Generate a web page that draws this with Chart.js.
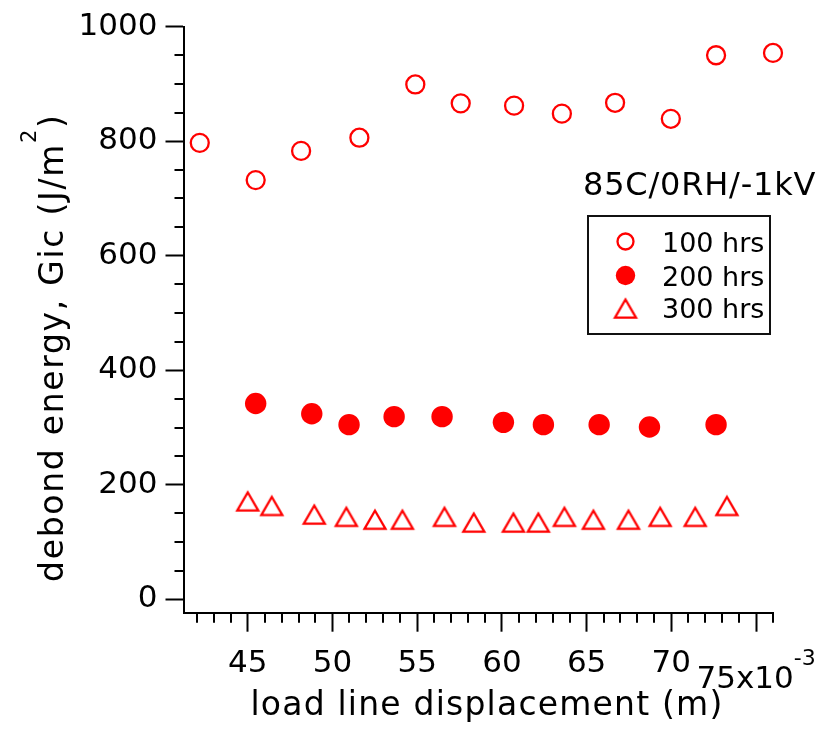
<!DOCTYPE html>
<html>
<head>
<meta charset="utf-8">
<title>Debond energy vs load line displacement</title>
<script src="https://cdn.jsdelivr.net/npm/chart.js@4.4.1/dist/chart.umd.min.js"></script>
<style>
  html, body { margin: 0; padding: 0; background: #ffffff; }
  canvas { display: block; }
</style>
</head>
<body>
<canvas id="chart" width="835" height="731"></canvas>
<script>
// ---- data (displacement in units of 1e-3 m, Gic in J/m^2) ----
const seriesLabels = ['100 hrs', '200 hrs', '300 hrs'];

const disp100 = [42.17, 45.47, 48.15, 51.59, 54.89, 57.57, 60.72, 63.54, 66.68, 69.97, 72.64, 76.0];
const gic100  = [797, 732, 783, 806, 899, 866, 862, 848, 867, 839, 950, 954];

const disp200 = [45.47, 48.78, 50.98, 53.64, 56.47, 60.09, 62.45, 65.74, 68.71, 72.64];
const gic200  = [342, 324, 305, 319, 319, 309, 305, 305, 301, 305];

const disp300 = [45.0, 46.42, 48.93, 50.82, 52.51, 54.13, 56.61, 58.34, 60.68, 62.15, 63.69, 65.40, 67.47, 69.34, 71.41, 73.28];
const gic300  = [172, 164, 149, 145, 140, 140, 145, 135, 135, 135, 145, 140, 140, 145, 145, 164];

const xTickValues = [45, 50, 55, 60, 65, 70, 75];
const yTickValues = [0, 200, 400, 600, 800, 1000];
const xExponentLabel = '-3';
const conditionLabel = '85C/0RH/-1kV';
const xTitle = 'load line displacement (m)';
const yTitleMain = 'debond energy, Gic (J/m';
const yTitleSup = '2';
const yTitleEnd = ')';

// ---- styling ----
const FONT = '"DejaVu Sans", "Noto Sans", sans-serif';
const RED = '#ff0000';
const INK = '#000000';

// open triangle marker, centred on its bounding box
function makeTriangle() {
  const c = document.createElement('canvas');
  c.width = 30; c.height = 28;
  const g = c.getContext('2d');
  const s = 21, cx = 15, yA = 5.5, yB = yA + s * 0.866;
  g.strokeStyle = RED;
  g.lineWidth = 2.3;
  g.lineJoin = 'miter';
  g.beginPath();
  g.moveTo(cx, yA);
  g.lineTo(cx + s / 2, yB);
  g.lineTo(cx - s / 2, yB);
  g.closePath();
  g.stroke();
  return c;
}
const triangleMarker = makeTriangle();

function points(xs, ys) { return xs.map((x, i) => ({ x: x, y: ys[i] })); }

// minor tick positions (between the labelled major ticks)
const xMinor = [];
for (let v = 42; v <= 76; v++) if (v % 5 !== 0) xMinor.push(v);
const yMinor = [];
for (let v = 50; v < 1000; v += 50) if (v % 200 !== 0) yMinor.push(v);

const decorations = {
  id: 'decorations',
  afterDraw(chart) {
    const ctx = chart.ctx;
    const xs = chart.scales.x, ys = chart.scales.y;
    const area = chart.chartArea;

    // minor ticks
    ctx.save();
    ctx.strokeStyle = INK;
    ctx.lineWidth = 2;
    ctx.beginPath();
    yMinor.forEach(v => {
      const py = Math.round(ys.getPixelForValue(v));
      ctx.moveTo(area.left - 9, py);
      ctx.lineTo(area.left, py);
    });
    xMinor.forEach(v => {
      const px = Math.round(xs.getPixelForValue(v));
      ctx.moveTo(px, area.bottom);
      ctx.lineTo(px, area.bottom + 10);
    });
    ctx.stroke();
    ctx.restore();

    // last x tick label with the axis multiplier
    ctx.save();
    ctx.fillStyle = INK;
    ctx.textBaseline = 'alphabetic';
    ctx.textAlign = 'left';
    const lastVal = xTickValues[xTickValues.length - 1];
    const mainTxt = lastVal + 'x10';
    ctx.font = '31px ' + FONT;
    const wMain = ctx.measureText(mainTxt).width;
    ctx.font = '22px ' + FONT;
    const wExp = ctx.measureText(xExponentLabel).width;
    const startX = xs.getPixelForValue(lastVal) - (wMain + wExp) / 2;
    ctx.font = '31px ' + FONT;
    ctx.fillText(mainTxt, startX, 688);
    ctx.font = '22px ' + FONT;
    ctx.fillText(xExponentLabel, startX + wMain, 665);
    ctx.restore();

    // axis titles
    ctx.save();
    ctx.fillStyle = INK;
    ctx.textBaseline = 'alphabetic';
    ctx.font = '33px ' + FONT;
    ctx.letterSpacing = '1.2px';
    ctx.textAlign = 'center';
    ctx.fillText(xTitle, 487, 715);
    ctx.restore();

    ctx.save();
    ctx.fillStyle = INK;
    ctx.textBaseline = 'alphabetic';
    ctx.textAlign = 'left';
    ctx.translate(63, 582);
    ctx.rotate(-Math.PI / 2);
    ctx.letterSpacing = '1.7px';
    ctx.font = '33px ' + FONT;
    ctx.fillText(yTitleMain, 0, 0);
    let off = ctx.measureText(yTitleMain).width;
    ctx.font = '21px ' + FONT;
    ctx.fillText(yTitleSup, off, -27);
    off += ctx.measureText(yTitleSup).width;
    ctx.font = '33px ' + FONT;
    ctx.fillText(yTitleEnd, off, 0);
    ctx.restore();

    // condition label
    ctx.save();
    ctx.fillStyle = INK;
    ctx.textBaseline = 'alphabetic';
    ctx.textAlign = 'left';
    ctx.font = '32px ' + FONT;
    ctx.letterSpacing = '0.8px';
    ctx.fillText(conditionLabel, 583, 195);
    ctx.restore();

    // legend box
    ctx.save();
    ctx.strokeStyle = '#111111';
    ctx.lineWidth = 2;
    ctx.strokeRect(588, 216, 182, 118);
    const rows = [241.5, 275.5, 308];
    const markX = 625.5;
    chart.data.datasets.forEach((ds, i) => {
      const y = rows[i];
      if (ds.pointStyle === 'circle') {
        ctx.beginPath();
        ctx.arc(markX, y, ds.pointRadius - 1, 0, Math.PI * 2);
        if (ds.pointBorderWidth > 0) {
          ctx.lineWidth = ds.pointBorderWidth;
          ctx.strokeStyle = ds.pointBorderColor;
          ctx.stroke();
        } else {
          ctx.fillStyle = ds.pointBackgroundColor;
          ctx.fill();
        }
      } else {
        const img = ds.pointStyle;
        ctx.drawImage(img, markX - img.width / 2, y - img.height / 2);
      }
      ctx.fillStyle = INK;
      ctx.font = '27px ' + FONT;
      ctx.textBaseline = 'alphabetic';
      ctx.textAlign = 'left';
      ctx.fillText(ds.label, 662, y + 10);
    });
    ctx.restore();
  }
};

new Chart(document.getElementById('chart'), {
  type: 'scatter',
  data: {
    datasets: [
      {
        label: seriesLabels[0],
        data: points(disp100, gic100),
        pointStyle: 'circle',
        pointRadius: 9,
        pointBorderWidth: 2.3,
        pointBorderColor: RED,
        pointBackgroundColor: 'rgba(0,0,0,0)',
        showLine: false,
        clip: false
      },
      {
        label: seriesLabels[1],
        data: points(disp200, gic200),
        pointStyle: 'circle',
        pointRadius: 10.7,
        pointBorderWidth: 0,
        pointBorderColor: RED,
        pointBackgroundColor: RED,
        showLine: false,
        clip: false
      },
      {
        label: seriesLabels[2],
        data: points(disp300, gic300),
        pointStyle: triangleMarker,
        pointRadius: 12,
        pointBorderWidth: 0,
        showLine: false,
        clip: false
      }
    ]
  },
  options: {
    responsive: false,
    animation: false,
    devicePixelRatio: 1,
    events: [],
    layout: { padding: { top: 25, right: 62, bottom: 0, left: 0 } },
    plugins: {
      legend: { display: false },
      tooltip: { enabled: false },
      title: { display: false }
    },
    scales: {
      x: {
        type: 'linear',
        position: 'bottom',
        min: 41.21,
        max: 76.0,
        afterBuildTicks: s => { s.ticks = xTickValues.map(v => ({ value: v })); },
        afterFit: s => { s.height = 731 - 612.7; },
        ticks: {
          autoSkip: false,
          maxRotation: 0,
          padding: 14,
          color: INK,
          font: { family: FONT, size: 31 },
          callback: v => (v === xTickValues[xTickValues.length - 1] ? '' : String(v))
        },
        grid: { drawOnChartArea: false, drawTicks: true, tickLength: 19, tickWidth: 2, tickColor: INK },
        border: { display: true, width: 2, color: INK }
      },
      y: {
        type: 'linear',
        position: 'left',
        min: -23.3,
        max: 1000,
        afterBuildTicks: s => { s.ticks = yTickValues.map(v => ({ value: v })); },
        afterFit: s => { s.width = 183.5; },
        ticks: {
          padding: 8,
          color: INK,
          font: { family: FONT, size: 31 },
          callback: v => String(v)
        },
        grid: { drawOnChartArea: false, drawTicks: true, tickLength: 18, tickWidth: 2, tickColor: INK },
        border: { display: true, width: 2, color: INK }
      }
    }
  },
  plugins: [decorations]
});
</script>
</body>
</html>
